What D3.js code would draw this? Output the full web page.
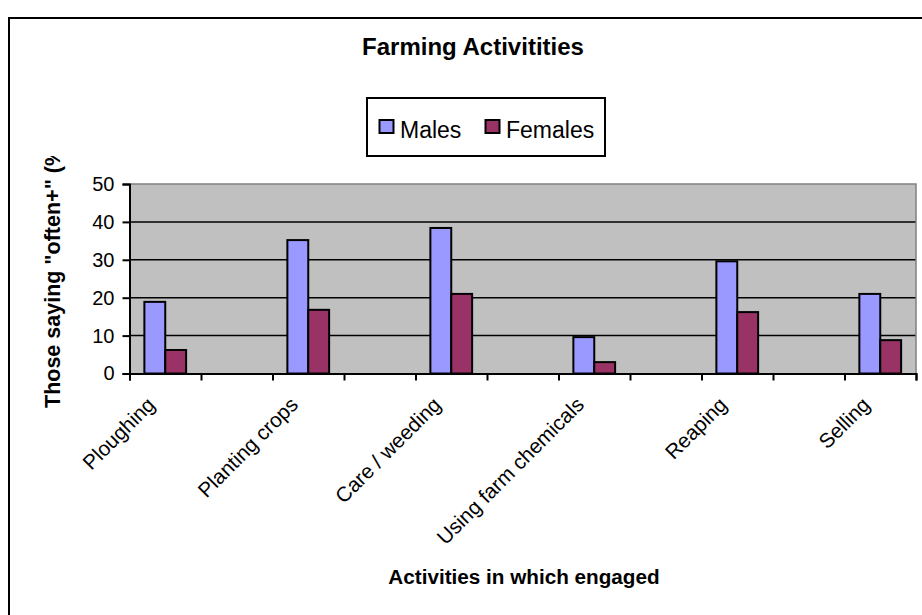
<!DOCTYPE html>
<html>
<head>
<meta charset="utf-8">
<script src="https://cdn.jsdelivr.net/npm/d3@7"></script>
<style>
  html, body { margin: 0; padding: 0; background: #fff; }
  svg { display: block; font-family: "Liberation Sans", Arial, sans-serif; }
</style>
</head>
<body>
<svg id="chart" width="922" height="615"></svg>
<script>
// Share of respondents saying they engage "often" or more, by activity and sex
const categories = ["Ploughing", "Planting crops", "Care / weeding", "Using farm chemicals", "Reaping", "Selling"];
const males   = [18.9, 35.2, 38.4, 9.6, 29.6, 21.0];
const females = [6.2, 16.8, 21.0, 3.0, 16.2, 8.8];
const seriesNames = ["Males", "Females"];
const seriesColors = ["#9999FF", "#993366"];
const yTicks = [0, 10, 20, 30, 40, 50];

const svg = d3.select("#chart");

// Plot frame
const plot = { left: 129.5, right: 916, top: 184, bottom: 373.5 };

// Each activity is followed by an empty slot, giving 11 equal bands
const slots = [];
categories.forEach((c, i) => {
  slots.push(c);
  if (i < categories.length - 1) slots.push("__gap" + i);
});

const x = d3.scaleBand().domain(slots).range([plot.left, plot.right]).padding(0);
const xEdges = d3.scaleLinear().domain([0, slots.length]).range([plot.left, plot.right]);
const y = d3.scaleLinear().domain([0, 50]).range([plot.bottom, plot.top]);
const barW = x.bandwidth() * 0.292;
const inner = d3.scaleBand().domain(seriesNames).range([-barW, barW]).padding(0);

// Outer chart border
svg.append("rect")
  .attr("x", 9).attr("y", 18).attr("width", 1000).attr("height", 1000)
  .attr("fill", "none").attr("stroke", "#000").attr("stroke-width", 2);

// Title
svg.append("text")
  .attr("x", 473).attr("y", 55)
  .attr("text-anchor", "middle")
  .attr("font-size", 24).attr("font-weight", "bold")
  .text("Farming Activitities");

// Legend
const legend = svg.append("g");
legend.append("rect")
  .attr("x", 367).attr("y", 98).attr("width", 238).attr("height", 58)
  .attr("fill", "#fff").attr("stroke", "#000").attr("stroke-width", 2);
const legendX = [379.5, 485.5];
seriesNames.forEach((name, i) => {
  legend.append("rect")
    .attr("x", legendX[i]).attr("y", 120).attr("width", 14).attr("height", 13)
    .attr("fill", seriesColors[i]).attr("stroke", "#000").attr("stroke-width", 2);
  legend.append("text")
    .attr("x", legendX[i] + 20.5).attr("y", 137.5)
    .attr("font-size", 23)
    .text(name);
});

// Plot background
svg.append("rect")
  .attr("x", plot.left).attr("y", plot.top)
  .attr("width", plot.right - plot.left).attr("height", plot.bottom - plot.top)
  .attr("fill", "#C0C0C0");

// Gridlines
svg.append("g")
  .selectAll("line")
  .data(yTicks.filter(t => t > 0 && t < 50))
  .join("line")
  .attr("x1", plot.left).attr("x2", plot.right)
  .attr("y1", d => y(d)).attr("y2", d => y(d))
  .attr("stroke", "#000").attr("stroke-width", 1.5);

// Plot border (top and right in grey)
svg.append("path")
  .attr("d", `M${plot.left},${plot.top}H${plot.right}V${plot.bottom}`)
  .attr("fill", "none").attr("stroke", "#808080").attr("stroke-width", 1.5);

// Bars
const rows = categories.map((c, i) => ({ cat: c, values: [males[i], females[i]] }));
const groups = svg.append("g")
  .selectAll("g")
  .data(rows)
  .join("g")
  .attr("transform", d => `translate(${x(d.cat) + x.bandwidth() / 2},0)`);
groups.selectAll("rect")
  .data(d => d.values.map((v, j) => ({ name: seriesNames[j], v, j })))
  .join("rect")
  .attr("x", d => inner(d.name))
  .attr("width", inner.bandwidth())
  .attr("y", d => y(d.v))
  .attr("height", d => y(0) - y(d.v))
  .attr("fill", d => seriesColors[d.j])
  .attr("stroke", "#000").attr("stroke-width", 2);

// Y axis
const yAxis = svg.append("g")
  .attr("transform", `translate(${plot.left},0)`)
  .call(d3.axisLeft(y).tickValues(yTicks).tickSize(7).tickPadding(8).tickFormat(d3.format("d")));
yAxis.select(".domain").attr("stroke", "#000").attr("stroke-width", 2);
yAxis.selectAll(".tick line").attr("stroke", "#000").attr("stroke-width", 2);
yAxis.selectAll(".tick text")
  .attr("font-family", "\"Liberation Sans\", Arial, sans-serif")
  .attr("font-size", 20).attr("fill", "#000");

// X axis: ticks at band edges
const xAxis = svg.append("g")
  .attr("transform", `translate(0,${plot.bottom})`)
  .call(d3.axisBottom(xEdges).tickValues(d3.range(slots.length + 1)).tickSize(7).tickFormat(""));
xAxis.select(".domain").attr("stroke", "#000").attr("stroke-width", 2);
xAxis.selectAll(".tick line").attr("stroke", "#000").attr("stroke-width", 2);

// Category labels, rotated
svg.append("g")
  .selectAll("text")
  .data(categories)
  .join("text")
  .attr("transform", d => `translate(${x(d) + x.bandwidth() / 2 - 9},406) rotate(-45)`)
  .attr("text-anchor", "end")
  .attr("font-size", 20.7)
  .text(d => d);

// Axis titles
svg.append("text")
  .attr("x", 524).attr("y", 584)
  .attr("text-anchor", "middle")
  .attr("font-size", 20.7).attr("font-weight", "bold")
  .text("Activities in which engaged");

// Vertical title is cut off by its text box
svg.append("clipPath").attr("id", "ytitle-clip")
  .append("rect").attr("x", 0).attr("y", 156).attr("width", 120).attr("height", 400);
svg.append("g")
  .attr("clip-path", "url(#ytitle-clip)")
  .append("text")
  .attr("transform", "translate(59.5,408) rotate(-90)")
  .attr("font-size", 21.5).attr("font-weight", "bold")
  .text("Those saying \"often+\" (%)");
</script>
</body>
</html>
